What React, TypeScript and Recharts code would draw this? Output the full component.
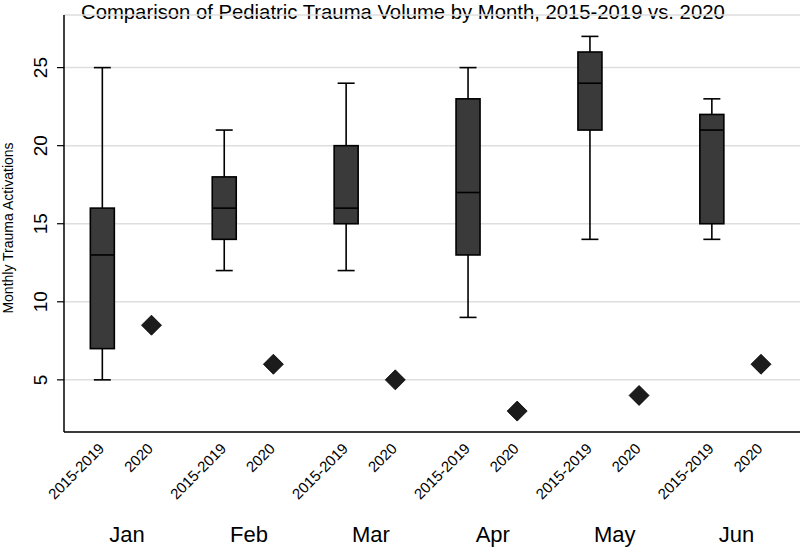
import { ComposedChart, Bar, Scatter, XAxis, YAxis, CartesianGrid } from "recharts";

const months = ["Jan", "Feb", "Mar", "Apr", "May", "Jun"];
const groupLabels = ["2015-2019", "2020"];

// 2015-2019 box plot stats per month
const mins = [5, 12, 12, 9, 14, 14];
const q1s = [7, 14, 15, 13, 21, 15];
const medians = [13, 16, 16, 17, 24, 21];
const q3s = [16, 18, 20, 23, 26, 22];
const maxs = [25, 21, 24, 25, 27, 23];

// 2020 single values
const v2020 = [8.5, 6, 5, 3, 4, 6];

const yTicks = [5, 10, 15, 20, 25];

const MONTH_STEP = 2.5;
const PAIR_GAP = 1;
const FONT = "'Liberation Sans', Arial, Helvetica, sans-serif";

const boxData = months.map((m, i) => ({
  month: m,
  x: i * MONTH_STEP,
  mid: i * MONTH_STEP + PAIR_GAP / 2,
  min: mins[i],
  q1: q1s[i],
  median: medians[i],
  q3: q3s[i],
  max: maxs[i],
}));

const pointData = months.map((m, i) => ({ month: m, x: i * MONTH_STEP + PAIR_GAP, v: v2020[i] }));

const groupTicks = [...boxData.map((d) => d.x), ...pointData.map((d) => d.x)].sort((a, b) => a - b);
const monthTicks = boxData.map((d) => d.mid);

const X_DOMAIN: [number, number] = [-0.794, 14.3];
const Y_DOMAIN: [number, number] = [1.66, 28.37];

function BoxShape(props: any) {
  const { x, y, width, height, payload } = props;
  if (height == null || payload == null) return null;
  const span = payload.max - payload.min;
  const py = (v: number) => y + ((payload.max - v) / span) * height;
  const cx = x + width / 2;
  const cap = 8.5;
  return (
    <g>
      <line x1={cx} x2={cx} y1={py(payload.max)} y2={py(payload.min)} stroke="#000" strokeWidth={1.6} />
      <line x1={cx - cap} x2={cx + cap} y1={py(payload.max)} y2={py(payload.max)} stroke="#000" strokeWidth={1.6} />
      <line x1={cx - cap} x2={cx + cap} y1={py(payload.min)} y2={py(payload.min)} stroke="#000" strokeWidth={1.6} />
      <rect
        x={x}
        y={py(payload.q3)}
        width={width}
        height={py(payload.q1) - py(payload.q3)}
        fill="#3a3a3a"
        stroke="#000"
        strokeWidth={1.6}
      />
      <line x1={x} x2={x + width} y1={py(payload.median)} y2={py(payload.median)} stroke="#000" strokeWidth={1.6} />
    </g>
  );
}

function Diamond(props: any) {
  const { cx, cy } = props;
  const r = 10;
  return (
    <polygon
      points={`${cx},${cy - r} ${cx + r},${cy} ${cx},${cy + r} ${cx - r},${cy}`}
      fill="#1c1c1c"
      stroke="#000"
      strokeWidth={0.8}
    />
  );
}

function YTick(props: any) {
  const { y, payload } = props;
  return (
    <g transform={`translate(46.5, ${y}) rotate(-90)`}>
      <text x={0} y={0} textAnchor="middle" fontSize={19} fontFamily={FONT} fill="#000">
        {payload.value}
      </text>
    </g>
  );
}

function GroupTick(props: any) {
  const { x, payload } = props;
  const idx = groupTicks.indexOf(payload.value);
  const label = groupLabels[idx % 2];
  return (
    <g transform={`translate(${x + 2.5}, 449.5) rotate(-45)`}>
      <text x={0} y={0} textAnchor="end" fontSize={15} fontFamily={FONT} fill="#000">
        {label}
      </text>
    </g>
  );
}

function MonthTick(props: any) {
  const { x, index } = props;
  return (
    <text x={x} y={541.5} textAnchor="middle" fontSize={22} fontFamily={FONT} fill="#000">
      {months[index]}
    </text>
  );
}

export default function App() {
  return (
    <div style={{ position: "absolute", left: 0, top: 0, width: 800, height: 547, background: "#fff" }}>
      <div
        style={{
          position: "absolute",
          left: 81,
          top: 0,
          fontFamily: FONT,
          fontSize: 20.3,
          lineHeight: "24px",
          whiteSpace: "nowrap",
          color: "#000",
        }}
      >
        Comparison of Pediatric Trauma Volume by Month, 2015-2019 vs. 2020
      </div>
      <div
        style={{
          position: "absolute",
          left: 8,
          top: 228,
          transform: "translate(-50%, -50%) rotate(-90deg)",
          fontFamily: FONT,
          fontSize: 14,
          whiteSpace: "nowrap",
          color: "#000",
        }}
      >
        Monthly Trauma Activations
      </div>
      <ComposedChart width={800} height={547} data={boxData} margin={{ top: 15, right: 0, bottom: 0, left: 0 }}>
        <CartesianGrid vertical={false} stroke="#dedede" strokeWidth={1.5} />
        <XAxis
          dataKey="x"
          type="number"
          domain={X_DOMAIN}
          allowDataOverflow
          ticks={groupTicks}
          interval={0}
          height={80}
          tickLine={false}
          tickSize={0}
          axisLine={{ stroke: "#000", strokeWidth: 1.5 }}
          tick={(p: any) => <GroupTick {...p} />}
        />
        <XAxis
          xAxisId="m"
          dataKey="mid"
          type="number"
          domain={X_DOMAIN}
          allowDataOverflow
          ticks={monthTicks}
          interval={0}
          height={35}
          tickLine={false}
          axisLine={false}
          tick={(p: any) => <MonthTick {...p} />}
        />
        <YAxis
          type="number"
          domain={Y_DOMAIN}
          allowDataOverflow
          ticks={yTicks}
          width={64}
          tickSize={7}
          tickLine={{ stroke: "#000", strokeWidth: 1.2 }}
          axisLine={{ stroke: "#000", strokeWidth: 1.5 }}
          tick={(p: any) => <YTick {...p} />}
        />
        <Bar dataKey={(d: any) => [d.min, d.max]} barSize={24} shape={<BoxShape />} isAnimationActive={false} />
        <Scatter data={pointData} dataKey="v" shape={<Diamond />} isAnimationActive={false} />
      </ComposedChart>
    </div>
  );
}
